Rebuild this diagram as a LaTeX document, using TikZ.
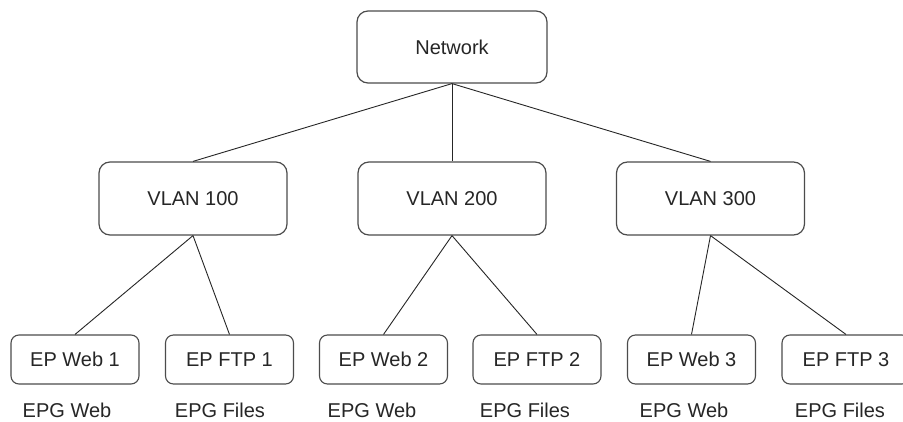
\documentclass[tikz,border=0pt]{standalone}
\usepackage{fontspec}
\setmainfont{Liberation Sans}
\begin{document}
\begin{tikzpicture}[x=1pt,y=-1pt,
  every node/.style={font=\fontsize{20}{24}\selectfont, text=black!85},
  bigbox/.style={draw=black!70, line width=1.2pt, rounded corners=11pt, minimum width=190pt, minimum height=72pt, inner sep=0pt},
  leafbox/.style={draw=black!70, line width=1.1pt, rounded corners=8pt, minimum width=128pt, minimum height=49pt, inner sep=0pt},
  tag/.style={inner sep=0pt},
  link/.style={draw=black!85, line width=0.9pt}]
\clip (0,0) rectangle (903,422);
\fill[white] (0,0) rectangle (903,422);
\node[bigbox] (net) at (452,47) {Network};
\node[bigbox, minimum width=188pt, minimum height=73pt] (v1) at (193,198.5) {VLAN 100};
\node[bigbox, minimum width=188pt, minimum height=73pt] (v2) at (452,198.5) {VLAN 200};
\node[bigbox, minimum width=188pt, minimum height=73pt] (v3) at (710.5,198.5) {VLAN 300};
\node[leafbox] (w1) at (75,359.5) {EP Web 1};
\node[leafbox] (f1) at (229.5,359.5) {EP FTP 1};
\node[leafbox] (w2) at (383.5,359.5) {EP Web 2};
\node[leafbox] (f2) at (537,359.5) {EP FTP 2};
\node[leafbox] (w3) at (691.5,359.5) {EP Web 3};
\node[leafbox] (f3) at (846,359.5) {EP FTP 3};
\node[tag] (l1) at (67,410) {EPG Web};
\node[tag] (l2) at (220,410) {EPG Files};
\node[tag] (l3) at (372,410) {EPG Web};
\node[tag] (l4) at (525,410) {EPG Files};
\node[tag] (l5) at (684,410) {EPG Web};
\node[tag] (l6) at (840,410) {EPG Files};
\draw[link] (net.south) -- (v1.north);
\draw[link] (net.south) -- (v2.north);
\draw[link] (net.south) -- (v3.north);
\draw[link] (v1.south) -- (w1.north);
\draw[link] (v1.south) -- (f1.north);
\draw[link] (v2.south) -- (w2.north);
\draw[link] (v2.south) -- (f2.north);
\draw[link] (v3.south) -- (w3.north);
\draw[link] (v3.south) -- (f3.north);
\end{tikzpicture}
\end{document}
